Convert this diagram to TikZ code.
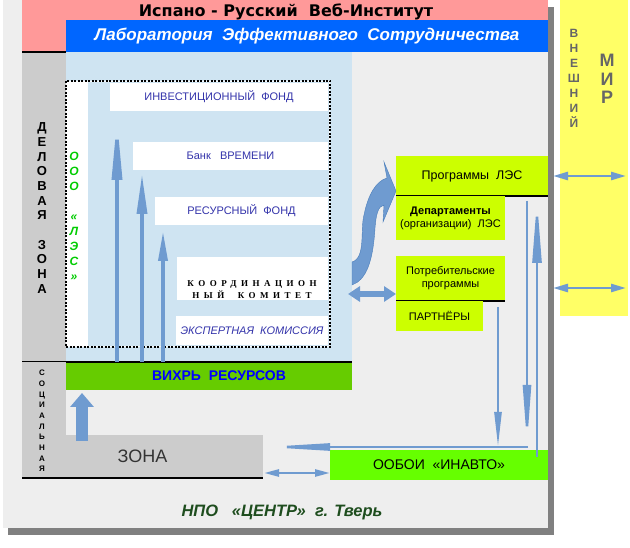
\documentclass[tikz,border=0pt]{standalone}
\usepackage{fontspec}
\setmainfont{Liberation Sans}
\newfontfamily\titlefont{DejaVu Sans}
\newfontfamily\koordfont[LetterSpace=50]{Liberation Serif}
\usetikzlibrary{arrows.meta,calc}
\definecolor{pinkbar}{HTML}{FF9999}
\definecolor{labblue}{HTML}{0066FF}
\definecolor{panelblue}{HTML}{CFE4F2}
\definecolor{zonegray}{HTML}{CCCCCC}
\definecolor{bggray}{HTML}{EEEEEE}
\definecolor{shadowgray}{HTML}{808080}
\definecolor{vihrgreen}{HTML}{66CC00}
\definecolor{lesgreen}{HTML}{CCFF00}
\definecolor{oboigreen}{HTML}{66FF00}
\definecolor{mirgelb}{HTML}{FFFF66}
\definecolor{arrowblue}{HTML}{6F9BD0}
\definecolor{arrowedge}{HTML}{4A7EBB}
\definecolor{textblue}{HTML}{3333AA}
\definecolor{oooGreen}{HTML}{00CC00}
\definecolor{npogreen}{HTML}{1E4D1E}
\definecolor{mirtext}{HTML}{666666}

\begin{document}
\begin{tikzpicture}[x=1pt,y=-1pt,
    box/.style={anchor=north west,inner sep=0pt,outer sep=0pt},
    stufe/.style={box,fill=white,text=textblue,font=\fontsize{11}{13}\selectfont},
    lesbox/.style={box,fill=lesgreen,align=center,font=\fontsize{11}{13}\selectfont},
    letters/.style={align=center,inner sep=0pt},
    flow/.style={draw=arrowblue,line width=3pt},
    border/.style={line width=1.4pt}]
    \useasboundingbox (0,0) rectangle (630,548);
    %shadow and background
    \fill [shadowgray] (8,7) rectangle (554,535);
    \node [box,fill=bggray,minimum width=545pt,minimum height=528pt] (bg) at (3,0) {};
    %outer world
    \node [box,fill=mirgelb,minimum width=68pt,minimum height=316pt] (mir) at (560,0) {};
    \node [letters,text=mirtext,font=\bfseries\fontsize{12}{15}\selectfont] (vnesh) at (574,78) {В\\Н\\Е\\Ш\\Н\\И\\Й};
    \node [letters,text=mirtext,font=\bfseries\fontsize{18}{18.5}\selectfont] (mirtext) at (607,79) {М\\И\\Р};
    %title bars
    \node [box,fill=pinkbar,minimum width=526pt,minimum height=52pt] (titel) at (22,0) {};
    \node [font=\titlefont\bfseries\fontsize{16}{18}\selectfont] (titeltext) at (286,12) {Испано - Русский \ Веб-Институт};
    \node [box,fill=labblue,minimum width=482pt,minimum height=32pt,text=white,
      font=\bfseries\itshape\fontsize{17}{19}\selectfont] (lab) at (66,20) {Лаборатория \ Эффективного \ Сотрудничества};
    %business zone
    \node [box,fill=panelblue,minimum width=286pt,minimum height=310pt] (panel) at (66,52) {};
    \node [box,fill=zonegray,minimum width=44pt,minimum height=310pt] (delo) at (22,52) {};
    \draw [border] (delo.north west) -- (delo.north east);
    \node [letters,font=\bfseries\fontsize{13}{14.7}\selectfont] (delotext) at (42,208) {Д\\Е\\Л\\О\\В\\А\\Я\\ \\З\\О\\Н\\А};
    \node [box,fill=white,draw,line width=1.2pt,dash pattern=on 2pt off 1.5pt,
      minimum width=264pt,minimum height=266pt] (les) at (66,81) {};
    \node [box,fill=panelblue,minimum width=241pt,minimum height=264pt] (stufen) at (88,82) {};
    \node [letters,text=oooGreen,font=\bfseries\itshape\fontsize{12}{15}\selectfont] (ooo) at (74,216) {О\\О\\О\\ \\«\\Л\\Э\\С\\»};
    %steps
    \node [stufe,minimum width=218pt,minimum height=28pt] (invest) at (110,83) {ИНВЕСТИЦИОННЫЙ \ ФОНД};
    \node [stufe,minimum width=195pt,minimum height=28pt] (bank) at (133,142) {Банк \ \ ВРЕМЕНИ};
    \node [stufe,minimum width=173pt,minimum height=28pt] (ressurs) at (155,197) {РЕСУРСНЫЙ \ ФОНД};
    \node [stufe,minimum width=151pt,minimum height=43pt] (koord) at (177,257) {};
    \node [letters,font=\koordfont\bfseries\fontsize{9}{12}\selectfont] (koordtext) at (252,290) {КООРДИНАЦИОН\\НЫЙ \ КОМИТЕТ};
    \node [stufe,minimum width=152pt,minimum height=29pt,font=\itshape\fontsize{11}{13}\selectfont] (expert) at (176,316) {ЭКСПЕРТНАЯ \ КОМИССИЯ};
    %resource vortex
    \node [box,fill=vihrgreen,minimum width=286pt,minimum height=28pt,text=blue,
      font=\bfseries\fontsize{14}{16}\selectfont] (vihr) at (66,362) {\hspace*{20pt}ВИХРЬ \ РЕСУРСОВ};
    \draw [border] (delo.south west) -- (vihr.north east);
    \coordinate (a1) at (117,118);
    \coordinate (a2) at (142,174);
    \coordinate (a3) at (163,231);
    \draw [flow,line width=3.5pt,-{Triangle[length=62pt,width=10pt]}] (vihr.north -| a1) -- (a1);
    \draw [flow,line width=3.5pt,-{Triangle[length=40pt,width=10pt]}] (vihr.north -| a2) -- (a2);
    \draw [flow,line width=3.5pt,-{Triangle[length=30pt,width=9pt]}] (vihr.north -| a3) -- (a3);
    %social zone
    \node [box,fill=zonegray,minimum width=44pt,minimum height=116pt] (sozial) at (22,362) {};
    \node [box,fill=zonegray,minimum width=241pt,minimum height=43pt,text=black!80,
      font=\fontsize{18}{20}\selectfont] (zona) at (22,435) {ЗОНА};
    \draw [border] (zona.south west) -- (zona.south east);
    \node [letters,font=\bfseries\fontsize{8}{10.7}\selectfont] (soztext) at (42,421) {С\\О\\Ц\\И\\А\\Л\\Ь\\Н\\А\\Я};
    \coordinate (hoch) at (82,393);
    \draw [arrowblue,line width=12pt,-{Triangle[length=14pt,width=23pt]}] ($(zona.north -| hoch)+(0,6)$) -- (hoch);
    %programs
    \node [lesbox,minimum width=152pt,minimum height=40pt,font=\fontsize{12.5}{14}\selectfont] (progr) at (396,156) {Программы \ ЛЭС};
    \draw [border] (progr.south west) -- (progr.south east);
    \node [lesbox,minimum width=109pt,minimum height=44pt] (depart) at (396,196) {\textbf{Департаменты}\\(организации) \ ЛЭС};
    \node [lesbox,minimum width=109pt,minimum height=45pt] (potreb) at (396,256) {Потребительские\\программы};
    \draw [border] (potreb.south west) -- (potreb.south east);
    \node [lesbox,minimum width=87pt,minimum height=30pt] (partner) at (396,301) {ПАРТНЁРЫ};
    \node [box,fill=oboigreen,minimum width=218pt,minimum height=30pt,
      font=\fontsize{14}{16}\selectfont] (oboi) at (330,450) {ООБОИ \ «ИНАВТО»};
    %curved arrow
    \filldraw [fill=arrowblue,draw=arrowedge,line width=0.4pt] (352,262)
      .. controls (366,258) and (360,230) .. (364,215)
      .. controls (368,195) and (376,181) .. (387,178)
      -- (384,162) -- (396,191) -- (383,222) -- (384,205)
      .. controls (378,206) and (376,215) .. (375,228)
      .. controls (373,262) and (366,280) .. (352,285) -- cycle;
    \coordinate (tausch) at (0,294);
    \draw [arrowblue,line width=6pt,{Triangle[length=12pt,width=15pt]}-{Triangle[length=12pt,width=15pt]}]
      ($(panel.east |- tausch)+(-4,0)$) -- (potreb.west |- tausch);
    %links to outer world
    \coordinate (welt) at (0,288);
    \draw [flow,line width=2.5pt,{Triangle[length=15pt,width=8pt]}-{Triangle[length=15pt,width=8pt]}]
      ($(progr.east)+(5,0)$) -- ($(mir.east |- progr.east)+(-2,0)$);
    \draw [flow,line width=2.5pt,{Triangle[length=15pt,width=8pt]}-{Triangle[length=15pt,width=8pt]}]
      ($(bg.east |- welt)+(5,0)$) -- ($(mir.east |- welt)+(-2,0)$);
    %return flows
    \coordinate (r1) at (498,307);
    \coordinate (r2) at (527,201);
    \coordinate (r3) at (537,199);
    \coordinate (ret) at (0,447);
    \draw [flow,line width=2.5pt,-{Triangle[length=35pt,width=7pt]}] (r1) -- (r1 |- ret);
    \draw [flow,line width=2.5pt,-{Triangle[length=60pt,width=8pt]}] (r2) -- ($(r2 |- ret)+(0,-2)$);
    \draw [flow,line width=2.5pt,-{Triangle[length=64pt,width=9pt]}] ($(r3 |- oboi.north)+(0,7)$) -- (r3);
    \draw [flow,line width=2.5pt,-{Triangle[length=67pt,width=7pt]}] ($(r2 |- ret)+(1,0)$) -- (zona.east |- ret);
    \draw [flow,line width=2.5pt,{Triangle[length=15pt,width=7pt]}-{Triangle[length=15pt,width=7pt]}]
      ($(zona.south east)+(1,-5)$) -- ($(oboi.west |- zona.south east)+(0,-5)$);
    %footer
    \node [text=npogreen,font=\bfseries\itshape\fontsize{16.5}{18}\selectfont] (npo) at (282,512) {НПО \ \ «ЦЕНТР» \ г. Тверь};
  \end{tikzpicture}
\end{document}
